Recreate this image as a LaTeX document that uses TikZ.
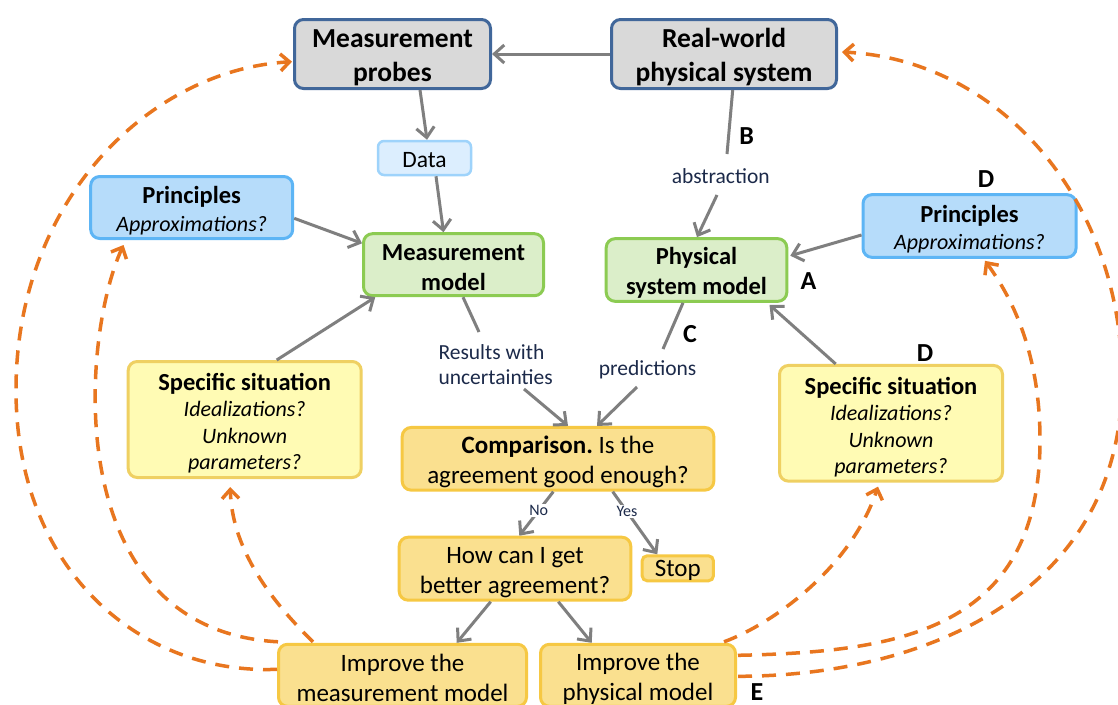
\documentclass[tikz,border=0pt]{standalone}
\usepackage{fontspec}
\setmainfont{Carlito}
\usetikzlibrary{arrows.meta,calc}

\definecolor{greyfill}{HTML}{D9D9D9}
\definecolor{greyline}{HTML}{41679A}
\definecolor{bluefill}{HTML}{B6DCFA}
\definecolor{blueline}{HTML}{5DB5F5}
\definecolor{datafill}{HTML}{DCEEFE}
\definecolor{dataline}{HTML}{9ED3FB}
\definecolor{greenfill}{HTML}{DBEEC9}
\definecolor{greenline}{HTML}{8CCB52}
\definecolor{lemonfill}{HTML}{FFFBB4}
\definecolor{lemonline}{HTML}{EFD062}
\definecolor{goldfill}{HTML}{FAE08F}
\definecolor{goldline}{HTML}{F6C843}
\definecolor{greyarrow}{HTML}{7F7F7F}
\definecolor{orangeline}{HTML}{E8761F}
\definecolor{navy}{HTML}{1C2A4A}

% invisible strut on a first line, to set the text block a little lower in its box
\newcommand\lift[1]{\rule{0pt}{#1pt}}
\frenchspacing

\begin{document}
\begin{tikzpicture}[x=1pt,y=-1pt,
  nodebox/.style={draw, line width=3pt, rounded corners=9pt, align=center,
    inner sep=0pt, text=black},
  topbox/.style={nodebox, fill=greyfill, draw=greyline,
    font=\fontsize{27.5}{34}\selectfont\bfseries},
  modelbox/.style={nodebox, fill=greenfill, draw=greenline,
    font=\fontsize{24.5}{30}\selectfont\bfseries},
  princbox/.style={nodebox, fill=bluefill, draw=blueline,
    font=\fontsize{22}{27.5}\selectfont},
  sitbox/.style={nodebox, fill=lemonfill, draw=lemonline,
    font=\fontsize{22}{26.5}\selectfont},
  goldbox/.style={nodebox, fill=goldfill, draw=goldline,
    font=\fontsize{25}{30}\selectfont},
  databox/.style={nodebox, fill=datafill, draw=dataline, line width=2.5pt,
    rounded corners=6pt, font=\fontsize{23.5}{28}\selectfont},
  lbl/.style={text=navy, font=\fontsize{21.5}{25.7}\selectfont, inner sep=0pt},
  tag/.style={font=\fontsize{26}{30}\selectfont\bfseries, inner sep=0pt},
  yn/.style={text=navy, font=\fontsize{16}{18}\selectfont, fill=white, inner sep=1.5pt},
  gline/.style={draw=greyarrow, line width=3pt},
  garrow/.style={gline, -{Straight Barb[length=10pt,width=18pt]}},
  oarrow/.style={draw=orangeline, line width=3.5pt, dash pattern=on 14pt off 10pt,
    -{Straight Barb[length=9pt,width=17pt]}}
]
\useasboundingbox (0,0) rectangle (1118,704);
\clip (0,0) rectangle (1118,704);
\fill[white] (0,0) rectangle (1118,704);

% ---------- boxes ----------
\node[topbox, minimum width=196pt, minimum height=69pt] (probes) at (392.5,54) {\lift{25.5}Measurement\\probes};
\node[topbox, minimum width=225pt, minimum height=69pt] (real) at (724,54) {\lift{26}Real-world\\physical system};
\node[databox, minimum width=93pt, minimum height=34pt] (data) at (424.5,158) {\lift{19}Data};

\node[princbox, minimum width=202pt, minimum height=62pt] (prinL) at (191.7,207.5)
  {{\fontsize{24.5}{27.5}\selectfont\bfseries\lift{24}Principles}\\{\itshape Approximations?}};
\node[princbox, minimum width=213pt, minimum height=62.7pt] (prinR) at (969.5,226)
  {{\fontsize{24.5}{27.5}\selectfont\bfseries\lift{24}Principles}\\{\itshape Approximations?}};

\node[modelbox, minimum width=180pt, minimum height=62pt] (mm) at (453.5,264.7) {\lift{22.5}Measurement\\model};
\node[modelbox, minimum width=180.6pt, minimum height=62.7pt] (phys) at (696.5,270) {\lift{23}Physical\\system model};

\node[sitbox, minimum width=233pt, minimum height=116pt] (specL) at (244.7,419.5)
  {{\fontsize{24.5}{26.5}\selectfont\bfseries\lift{25}Specific situation}\\{\itshape Idealizations?}\\{\itshape Unknown}\\{\itshape parameters?}};
\node[sitbox, minimum width=223pt, minimum height=115.7pt] (specR) at (891,423.3)
  {{\fontsize{24.5}{26.5}\selectfont\bfseries\lift{25}Specific situation}\\{\itshape Idealizations?}\\{\itshape Unknown}\\{\itshape parameters?}};

\node[goldbox, minimum width=311.6pt, minimum height=62.7pt] (cmp) at (558,458.8)
  {{\bfseries\lift{24.5}Comparison.} Is the\\agreement good enough?};
\node[goldbox, minimum width=231.6pt, minimum height=63pt] (how) at (515,568.7)
  {\lift{24.5}How can I get\\better agreement?};
\node[goldbox, rounded corners=5pt, minimum width=71.3pt, minimum height=25pt] (stop) at (677.8,568.3) {\lift{19.8}Stop};
\node[goldbox, minimum width=248pt, minimum height=62pt] (imm) at (402.5,675.3)
  {\lift{23.5}Improve the\\measurement model};
\node[goldbox, minimum width=195pt, minimum height=62pt] (imp) at (638,675.3)
  {\lift{23.5}Improve the\\physical model};

% ---------- edge labels and letters ----------
\node[lbl] (abs) at (720.7,175.7) {abstraction};
\node[lbl] (pred) at (647.6,370) {predictions};
\node[lbl, anchor=west, align=left] (res) at (438.3,364.5) {Results with\\uncertainties};

\node[tag] (tB) at (746.7,136) {B};
\node[tag] (tA) at (808.5,281) {A};
\node[tag] (tC) at (690,334) {C};
\node[tag] (tD1) at (986,179.5) {D};
\node[tag] (tD2) at (925,353.3) {D};
\node[tag] (tE) at (757,692) {E};

% free ends of the broken connectors around the labels
\coordinate (b1) at (727,154);
\coordinate (b2) at (717,195);
\coordinate (c1) at (663,349);
\coordinate (c2) at (637,387);
\coordinate (r1) at (479,332);
\coordinate (r2) at (524,389);

% ---------- grey connectors ----------
\draw[garrow] (real.west) -- (probes.east);
\draw[garrow] ($(probes.south)+(27.5,0)$) -- ($(data.north)+(2.5,0)$);
\draw[garrow] ($(data.south)+(11.5,0)$) -- ($(mm.north)+(-10,0)$);
\draw[garrow] ($(prinL.east)+(0,10.8)$) -- ($(mm.west)+(0,-21.4)$);
\draw[garrow] ($(specL.north)+(32,0)$) -- ($(mm.south west)+(13.2,0)$);

\draw[gline] ($(real.south)+(8.7,0)$) -- (b1);
\draw[garrow] (b2) -- ($(phys.north)+(0.5,0)$);
\draw[garrow] ($(prinR.west)+(0,9)$) -- ($(phys.east)+(2,-14.3)$);
\draw[garrow] ($(specR.north)+(-55.3,0)$) -- ($(phys.south east)+(-18.8,2)$);

\draw[gline] ($(mm.south)+(9.5,0)$) -- (r1);
\draw[garrow] (r2) -- ($(cmp.north)+(10,0)$);
\draw[gline] ($(phys.south)+(-13.5,0)$) -- (c1);
\draw[garrow] (c2) -- ($(cmp.north)+(39,0)$);

\draw[garrow] ($(cmp.south)+(-4.7,0)$) -- node[yn, pos=0.43] {No} ($(how.north)+(4.3,0)$);
\draw[garrow] ($(cmp.south)+(54.7,0)$) -- node[yn, pos=0.32] {Yes} ($(stop.north)+(-20.5,0)$);
\draw[garrow] ($(how.south)+(-24.3,0)$) -- ($(imm.north)+(54.2,0)$);
\draw[garrow] ($(how.south)+(43.3,0)$) -- ($(imp.north)+(-46.3,0)$);

% ---------- dashed feedback loops ----------
\draw[oarrow] ($(imm.west)+(0,-6)$) .. controls (140,675) and (16,570) .. (16,390)
  .. controls (16,200) and (150,70) .. ($(probes.west)+(-1,7.7)$);
\draw[oarrow] ($(imm.north west)+(1,-1)$) .. controls (60,630) and (80,340) .. ($(prinL.south west)+(34.3,5)$);
\draw[oarrow] ($(imm.north west)+(36,-1)$) .. controls (265,595) and (232,545) .. ($(specL.south)+(-14.5,8)$);

\draw[oarrow] ($(imp.north east)+(-13,-1)$) .. controls (770,625) and (850,570) .. ($(specR.south)+(-13,4)$);
\draw[oarrow] ($(imp.east)+(1,-20)$) .. controls (900,652) and (1040,630) .. (1040,440)
  .. controls (1040,350) and (1010,295) .. ($(prinR.south)+(15.5,2)$);
\draw[oarrow] ($(imp.east)+(1,1)$) .. controls (930,676) and (1122,590) .. (1122,380)
  .. controls (1122,200) and (1000,60) .. ($(real.east)+(4,-2)$);
\end{tikzpicture}
\end{document}
